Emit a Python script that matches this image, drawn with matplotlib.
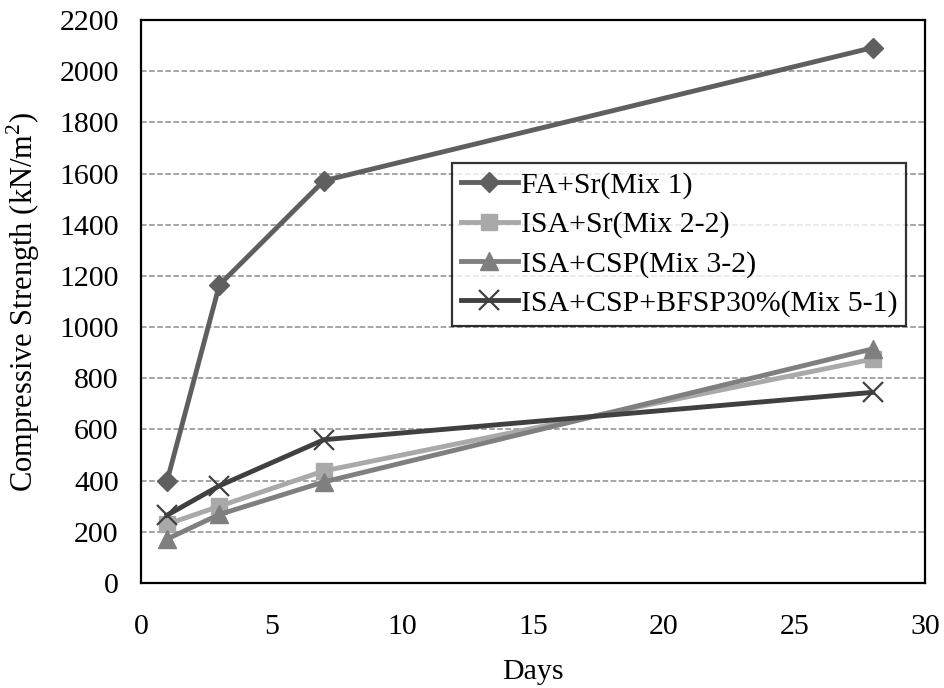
import matplotlib
matplotlib.use('Agg')
import matplotlib.pyplot as plt

plt.rcParams['font.family'] = ['Liberation Serif', 'DejaVu Serif']
plt.rcParams['mathtext.fontset'] = 'custom'
plt.rcParams['mathtext.rm'] = 'Liberation Serif'

# Data
days = [1, 3, 7, 28]
fa_sr = [400, 1165, 1572, 2092]
isa_sr = [230, 300, 438, 875]
isa_csp = [172, 268, 395, 915]
isa_csp_bfsp = [265, 380, 560, 745]

labels = ['FA+Sr(Mix 1)', 'ISA+Sr(Mix 2-2)', 'ISA+CSP(Mix 3-2)',
          'ISA+CSP+BFSP30%(Mix 5-1)']
yticks = list(range(0, 2201, 200))
xticks = [0, 5, 10, 15, 20, 25, 30]

fig = plt.figure(figsize=(9.44, 6.88), dpi=100)
# axes box: x 141..925 px, y 20..583 px
ax = fig.add_axes([141 / 944, 1 - 583 / 688, 784 / 944, 563 / 688])

ax.plot(days, fa_sr, color='#5f5f5f', lw=3.5, marker='D', ms=10, label=labels[0])
ax.plot(days, isa_sr, color='#a9a9a9', lw=3.5, marker='s', ms=11, label=labels[1])
ax.plot(days, isa_csp, color='#7f7f7f', lw=3.5, marker='^', ms=13, label=labels[2])
ax.plot(days, isa_csp_bfsp, color='#404040', lw=3.5, marker='x', ms=14, mew=1.6,
        label=labels[3])

ax.set_xlim(0, 30)
ax.set_ylim(0, 2200)
ax.set_xticks(xticks)
ax.set_yticks(yticks)
ax.tick_params(length=0, labelsize=21.5)
ax.tick_params(axis='y', pad=16)
ax.tick_params(axis='x', pad=22)
ax.yaxis.grid(True, ls='--', color='#8c8c8c', lw=1.1)
ax.set_axisbelow(True)
for s in ax.spines.values():
    s.set_linewidth(1.6)
    s.set_color('black')

ax.set_xlabel('Days', fontsize=21.5, labelpad=14)
ax.set_ylabel('Compressive Strength (kN/m$^2$)', fontsize=22, labelpad=12)

leg = ax.legend(loc='upper left', bbox_to_anchor=((452 - 141) / 784, (583 - 163) / 563),
                fontsize=21.5, frameon=True, fancybox=False, edgecolor='black',
                handlelength=1.9, handletextpad=0.1, borderpad=0.3,
                labelspacing=0.4, borderaxespad=0)
leg.get_frame().set_linewidth(1.6)

fig.savefig('out.png', dpi=100)
